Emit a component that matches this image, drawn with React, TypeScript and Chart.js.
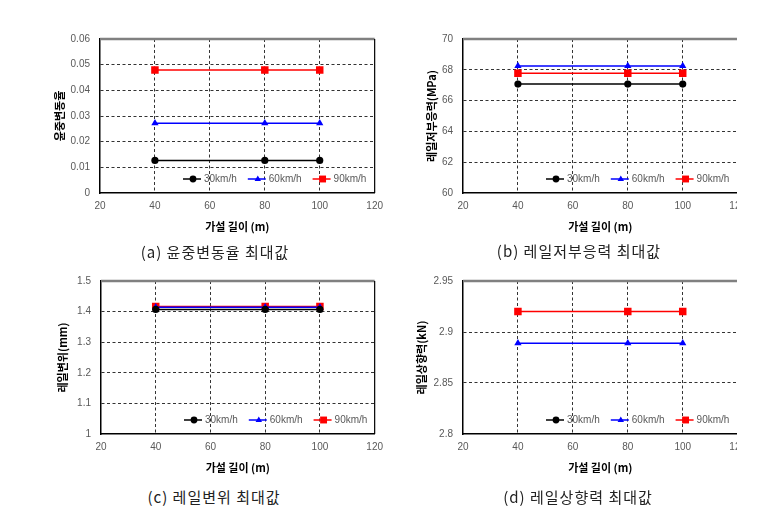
import React, { useEffect, useRef } from 'react';
import { Chart, registerables } from 'chart.js';

Chart.register(...registerables);

// ---- data ----
const spanLengths = [40, 80, 100];
const speedLabels = ['30km/h', '60km/h', '90km/h'];

const loadVar30 = [0.0127, 0.0127, 0.0127];
const loadVar60 = [0.0272, 0.0272, 0.0272];
const loadVar90 = [0.0479, 0.0479, 0.0479];

const stress30 = [67.07, 67.07, 67.07];
const stress60 = [68.25, 68.25, 68.25];
const stress90 = [67.77, 67.77, 67.77];

const disp30 = [1.407, 1.407, 1.407];
const disp60 = [1.414, 1.414, 1.414];
const disp90 = [1.417, 1.417, 1.417];

const uplift30: (number | null)[] = [null, null, null];
const uplift60 = [2.889, 2.889, 2.889];
const uplift90 = [2.92, 2.92, 2.92];

const xTitle = '가설 길이 (m)';

// ---- styles ----
const seriesColors = ['#000000', '#0000ff', '#ff0000'];
const seriesPoints = ['circle', 'triangle', 'rect'];
const seriesRadius = [3.6, 4.2, 5.3];
const tickFont = { family: '"Liberation Sans", Arial, sans-serif', size: 10 };
const titleFont = { family: '"Noto Sans CJK KR", sans-serif', size: 11, weight: 'bold' as const };

type Panel = {
  key: string;
  yTitle: string;
  yMin: number;
  yMax: number;
  yStep: number;
  series: (number | null)[][];
  caption: string;
  left: number;
  top: number;
  width: number;
  clipWidth: number;
  yAxisWidth: number;
  padTop: number;
  yTitlePad: number;
  rightBorder: boolean;
  captionX: number;
  captionY: number;
};

const panels: Panel[] = [
  {
    key: 'a', yTitle: '윤중변동율', yMin: 0, yMax: 0.06, yStep: 0.01,
    series: [loadVar30, loadVar60, loadVar90], caption: '(a) 윤중변동율 최대값',
    left: 0, top: 0, width: 390, clipWidth: 390, yAxisWidth: 100, padTop: 39, yTitlePad: 53,
    rightBorder: true, captionX: 215, captionY: 252,
  },
  {
    key: 'b', yTitle: '레일저부응력(MPa)', yMin: 60, yMax: 70, yStep: 2,
    series: [stress30, stress60, stress90], caption: '(b) 레일저부응력 최대값',
    left: 386, top: 0, width: 367, clipWidth: 351, yAxisWidth: 77, padTop: 39, yTitlePad: 39,
    rightBorder: false, captionX: 579, captionY: 251,
  },
  {
    key: 'c', yTitle: '레일변위(mm)', yMin: 1, yMax: 1.5, yStep: 0.1,
    series: [disp30, disp60, disp90], caption: '(c) 레일변위 최대값',
    left: 0, top: 241, width: 390, clipWidth: 390, yAxisWidth: 101, padTop: 40, yTitlePad: 56,
    rightBorder: true, captionX: 214, captionY: 497,
  },
  {
    key: 'd', yTitle: '레일상향력(kN)', yMin: 2.8, yMax: 2.95, yStep: 0.05,
    series: [uplift30, uplift60, uplift90], caption: '(d) 레일상향력 최대값',
    left: 386, top: 241, width: 367, clipWidth: 351, yAxisWidth: 77, padTop: 40, yTitlePad: 29,
    rightBorder: false, captionX: 578, captionY: 497,
  },
];

const CANVAS_H = 240;
const X_AXIS_H = 47;
const GRID_COLOR = '#333333';

const framePlugin = {
  id: 'frame',
  beforeDatasetsDraw(chart: any, _args: any, opts: any) {
    const { ctx, chartArea } = chart;
    ctx.save();
    ctx.strokeStyle = '#808080';
    ctx.lineWidth = 2.5;
    ctx.beginPath();
    ctx.moveTo(chartArea.left, chartArea.top);
    ctx.lineTo(chartArea.right, chartArea.top);
    ctx.stroke();
    if (opts && opts.rightBorder) {
      ctx.strokeStyle = '#000';
      ctx.lineWidth = 1.2;
      ctx.beginPath();
      ctx.moveTo(chartArea.right, chartArea.top);
      ctx.lineTo(chartArea.right, chartArea.bottom);
      ctx.stroke();
    }
    ctx.restore();
  },
};

function drawMarker(ctx: CanvasRenderingContext2D, style: string, x: number, y: number, r: number) {
  ctx.beginPath();
  if (style === 'circle') {
    ctx.arc(x, y, r, 0, Math.PI * 2);
  } else if (style === 'triangle') {
    ctx.moveTo(x, y - r);
    ctx.lineTo(x + r * 0.95, y + r * 0.6);
    ctx.lineTo(x - r * 0.95, y + r * 0.6);
    ctx.closePath();
  } else {
    const s = r * 0.75;
    ctx.rect(x - s, y - s, 2 * s, 2 * s);
  }
  ctx.fill();
}

const innerLegend = {
  id: 'innerLegend',
  afterDatasetsDraw(chart: any) {
    const { ctx, chartArea } = chart;
    ctx.save();
    ctx.font = '10px "Liberation Sans", Arial, sans-serif';
    ctx.textBaseline = 'middle';
    ctx.textAlign = 'left';
    let x = chartArea.left + 83;
    const y = chartArea.bottom - 14;
    chart.data.datasets.forEach((ds: any, i: number) => {
      ctx.strokeStyle = ds.borderColor;
      ctx.lineWidth = 1.5;
      ctx.beginPath();
      ctx.moveTo(x, y);
      ctx.lineTo(x + 18, y);
      ctx.stroke();
      ctx.fillStyle = ds.backgroundColor;
      drawMarker(ctx, seriesPoints[i], x + 10, y, i === 2 ? 4.6 : 3.4);
      ctx.fillStyle = '#595959';
      ctx.fillText(ds.label, x + 21, y + 0.5);
      x += 21 + ctx.measureText(ds.label).width + 11;
    });
    ctx.restore();
  },
};

function fmt(v: number | string) {
  return String(parseFloat(Number(v).toFixed(4)));
}

function PanelChart({ p }: { p: Panel }) {
  const ref = useRef<HTMLCanvasElement>(null);
  useEffect(() => {
    if (!ref.current) return;
    const datasets = p.series.map((vals, i) => ({
      label: speedLabels[i],
      data: spanLengths.map((x, j) => ({ x, y: vals[j] })),
      borderColor: seriesColors[i],
      backgroundColor: seriesColors[i],
      borderWidth: 1.5,
      pointStyle: seriesPoints[i],
      pointRadius: seriesRadius[i],
      pointBorderWidth: 0,
      pointBackgroundColor: seriesColors[i],
      showLine: true,
      spanGaps: false,
    }));
    const chart = new Chart(ref.current, {
      type: 'scatter',
      data: { datasets },
      options: {
        animation: false,
        responsive: false,
        maintainAspectRatio: false,
        layout: { padding: { top: p.padTop, right: p.width - p.yAxisWidth - 276, left: 0, bottom: 0 } },
        plugins: {
          legend: { display: false },
          tooltip: { enabled: false },
          frame: { rightBorder: p.rightBorder },
        } as any,
        scales: {
          x: {
            type: 'linear',
            min: 20,
            max: 120,
            ticks: { stepSize: 20, padding: 7, color: '#595959', font: tickFont, callback: (v: any) => fmt(v) },
            grid: {
              color: (c: any) => (c.tick && (c.tick.value === 20 || c.tick.value === 120) ? 'rgba(0,0,0,0)' : GRID_COLOR),
              lineWidth: 1,
              drawTicks: false,
            },
            border: { display: true, color: '#000', width: 1.5, dash: [3, 2.5] },
            title: { display: true, text: xTitle, color: '#000', font: titleFont, padding: { top: 0, bottom: 7 } },
            afterFit: (s: any) => { s.height = X_AXIS_H; },
          },
          y: {
            type: 'linear',
            min: p.yMin,
            max: p.yMax,
            ticks: { stepSize: p.yStep, padding: 10, color: '#595959', font: tickFont, callback: (v: any) => fmt(v) },
            grid: {
              color: (c: any) => (c.tick && (Math.abs(c.tick.value - p.yMax) < 1e-9 || Math.abs(c.tick.value - p.yMin) < 1e-9) ? 'rgba(0,0,0,0)' : GRID_COLOR),
              lineWidth: 1,
              drawTicks: false,
            },
            border: { display: true, color: '#000', width: 1.5, dash: [3, 2.5] },
            title: { display: true, text: p.yTitle, color: '#000', font: titleFont, padding: { top: p.yTitlePad, bottom: 0 } },
            afterFit: (s: any) => { s.width = p.yAxisWidth; },
          },
        },
      } as any,
      plugins: [framePlugin, innerLegend],
    });
    return () => chart.destroy();
  }, [p]);
  return (
    <div style={{ position: 'absolute', left: p.left, top: p.top, width: p.clipWidth, height: CANVAS_H, overflow: 'hidden' }}>
      <canvas ref={ref} width={p.width} height={CANVAS_H} style={{ width: p.width, height: CANVAS_H, display: 'block' }} />
    </div>
  );
}

export default function App() {
  return (
    <div style={{ position: 'absolute', left: 0, top: 0, width: 773, height: 517, background: '#fff', overflow: 'hidden' }}>
      {panels.map((p) => (
        <PanelChart key={p.key} p={p} />
      ))}
      {panels.map((p) => (
        <div
          key={'cap' + p.key}
          style={{
            position: 'absolute',
            left: p.captionX,
            top: p.captionY - 10,
            transform: 'translateX(-50%)',
            whiteSpace: 'nowrap',
            fontFamily: '"Noto Sans CJK KR", sans-serif',
            fontSize: 15,
            lineHeight: '20px',
            color: '#222',
            letterSpacing: 1,
          }}
        >
          {p.caption}
        </div>
      ))}
    </div>
  );
}
